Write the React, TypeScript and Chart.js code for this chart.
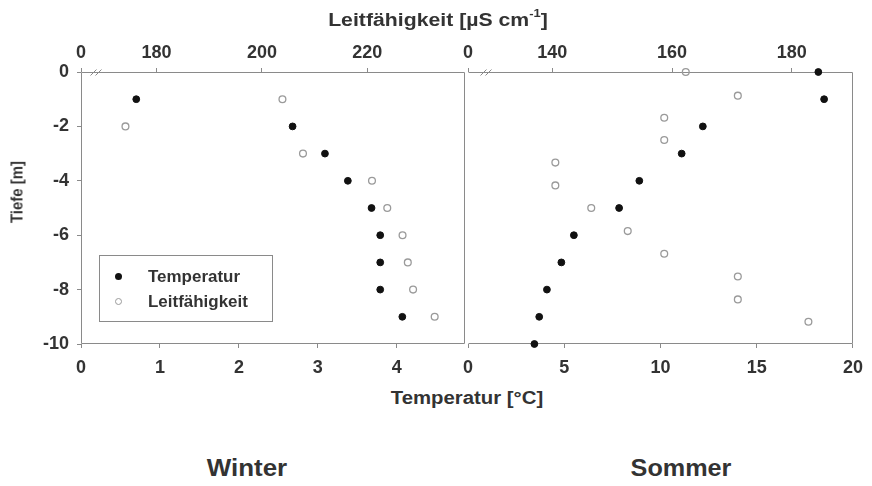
import React, { useEffect, useRef } from 'react';
import { Chart, registerables } from 'chart.js';

Chart.register(...registerables);

// ---------- data ----------
// Winter
const winterTempDepth = [-1, -2, -3, -4, -5, -6, -7, -8, -9];
const winterTemp = [0.7, 2.68, 3.09, 3.38, 3.68, 3.79, 3.79, 3.79, 4.07];
const winterCondDepth = [-1, -2, -3, -4, -5, -6, -7, -8, -9];
const winterCond = [203.9, 174.1, 207.8, 220.9, 223.8, 226.7, 227.7, 228.7, 232.8];
// Sommer
const summerTempDepth = [0, -1, -2, -3, -4, -5, -6, -7, -8, -9, -10];
const summerTemp = [18.2, 18.5, 12.2, 11.1, 8.9, 7.85, 5.5, 4.85, 4.1, 3.7, 3.45];
const summerCondDepth = [0, -0.87, -1.68, -2.5, -3.33, -4.17, -5.0, -5.85, -6.68, -7.52, -8.36, -9.18];
const summerCond = [162.3, 171.0, 158.7, 158.7, 140.5, 140.5, 146.5, 152.6, 158.7, 171.0, 171.0, 182.8];

// ticks
const depthTicks = [0, -2, -4, -6, -8, -10];
const winterTempTicks = [0, 1, 2, 3, 4];
const summerTempTicks = [0, 5, 10, 15, 20];
const winterCondTicks = [180, 200, 220];
const summerCondTicks = [140, 160, 180];

// ---------- style ----------
const FONT = '"Liberation Sans", Arial, sans-serif';
const TEXT = '#333';
const AXIS = '#8a8a8a';
const tickFont = { family: FONT, size: 18, weight: 'bold' as const };

function framePlugin(drawLeft: boolean, breakOffset: number) {
  return {
    id: 'frame',
    beforeDatasetsDraw(chart: any) {
      const { ctx, chartArea: a } = chart;
      const l = Math.round(a.left) + 0.5;
      const r = Math.round(a.right) - 0.5;
      const t = Math.round(a.top) + 0.5;
      const b = Math.round(a.bottom) - 0.5;
      ctx.save();
      ctx.strokeStyle = AXIS;
      ctx.lineWidth = 1;
      ctx.beginPath();
      ctx.moveTo(l, t);
      ctx.lineTo(r, t);
      ctx.lineTo(r, b);
      ctx.lineTo(l, b);
      if (drawLeft) ctx.lineTo(l, t);
      ctx.stroke();
      // axis break marks on top axis
      ctx.beginPath();
      for (const dx of [breakOffset, breakOffset + 5]) {
        ctx.moveTo(l + dx - 3, t + 3);
        ctx.lineTo(l + dx + 3, t - 3);
      }
      ctx.stroke();
      ctx.restore();
    },
  };
}

function fixedTicks(values: number[], withMin = false) {
  return (scale: any) => {
    const v = withMin ? [scale.min, ...values] : values;
    scale.ticks = v.map((value) => ({ value }));
  };
}

function makeOptions(opts: {
  tempMax: number;
  tempTicks: number[];
  condMin: number;
  condMax: number;
  condTicks: number[];
  showY: boolean;
  padLeft: number;
  padRight: number;
}) {
  const gridCfg = { drawOnChartArea: false, tickLength: 4, color: AXIS };
  return {
    responsive: false,
    animation: false as const,
    layout: { padding: { left: opts.padLeft, right: opts.padRight, top: 0, bottom: 0 } },
    plugins: { legend: { display: false }, tooltip: { enabled: false } },
    scales: {
      x: {
        type: 'linear' as const,
        position: 'bottom' as const,
        min: 0,
        max: opts.tempMax,
        afterBuildTicks: fixedTicks(opts.tempTicks),
        afterFit: (s: any) => {
          s.height = 36;
        },
        ticks: { font: tickFont, color: TEXT, padding: 9, autoSkip: false, maxRotation: 0 },
        grid: gridCfg,
        border: { display: false },
      },
      x2: {
        type: 'linear' as const,
        position: 'top' as const,
        min: opts.condMin,
        max: opts.condMax,
        afterBuildTicks: fixedTicks(opts.condTicks, true),
        afterFit: (s: any) => {
          s.height = 72;
        },
        ticks: {
          font: tickFont,
          color: TEXT,
          padding: 4,
          autoSkip: false,
          maxRotation: 0,
          callback: (v: any, i: number) => (i === 0 ? '0' : String(Math.round(v))),
        },
        grid: gridCfg,
        border: { display: false },
      },
      y: {
        type: 'linear' as const,
        position: 'left' as const,
        display: opts.showY,
        min: -10,
        max: 0,
        afterBuildTicks: fixedTicks(depthTicks),
        afterFit: (s: any) => {
          s.width = opts.showY ? 81 : 0;
        },
        ticks: { font: tickFont, color: TEXT, padding: 8, autoSkip: false },
        grid: gridCfg,
        border: { display: false },
      },
    },
  };
}

function datasets(tD: number[], t: number[], cD: number[], c: number[]) {
  return [
    {
      label: 'Temperatur',
      data: tD.map((d, i) => ({ x: t[i], y: d })),
      xAxisID: 'x',
      yAxisID: 'y',
      pointRadius: 3.4,
      pointBackgroundColor: '#111',
      pointBorderColor: '#111',
      pointBorderWidth: 1,
      showLine: false,
      clip: false as const,
    },
    {
      label: 'Leitfähigkeit',
      data: cD.map((d, i) => ({ x: c[i], y: d })),
      xAxisID: 'x2',
      yAxisID: 'y',
      pointRadius: 3.4,
      pointBackgroundColor: 'rgba(255,255,255,0)',
      pointBorderColor: '#9a9a9a',
      pointBorderWidth: 1.3,
      showLine: false,
      clip: false as const,
    },
  ];
}

function ChartCanvas(props: { kind: 'winter' | 'summer'; left: number; width: number }) {
  const ref = useRef<HTMLCanvasElement>(null);
  useEffect(() => {
    if (!ref.current) return;
    const winter = props.kind === 'winter';
    const chart = new Chart(ref.current, {
      type: 'scatter',
      data: {
        datasets: winter
          ? datasets(winterTempDepth, winterTemp, winterCondDepth, winterCond)
          : datasets(summerTempDepth, summerTemp, summerCondDepth, summerCond),
      } as any,
      options: makeOptions(
        winter
          ? {
              tempMax: 4.86,
              tempTicks: winterTempTicks,
              condMin: 165.66,
              condMax: 238.5,
              condTicks: winterCondTicks,
              showY: true,
              padLeft: 0,
              padRight: 3,
            }
          : {
              tempMax: 20,
              tempTicks: summerTempTicks,
              condMin: 125.9,
              condMax: 190.25,
              condTicks: summerCondTicks,
              showY: false,
              padLeft: 28,
              padRight: 17,
            }
      ) as any,
      plugins: [framePlugin(winter, winter ? 12 : 15)],
    });
    return () => chart.destroy();
  }, []);
  return (
    <canvas
      ref={ref}
      width={props.width}
      height={380}
      style={{ position: 'absolute', left: props.left, top: 0, width: props.width, height: 380 }}
    />
  );
}

const label = (x: number, y: number, size: number, sx = 1): React.CSSProperties => ({
  position: 'absolute',
  left: x,
  top: y,
  transform: `translate(-50%, -50%) scaleX(${sx})`,
  fontFamily: FONT,
  fontWeight: 'bold',
  fontSize: size,
  color: TEXT,
  whiteSpace: 'nowrap',
  lineHeight: 1,
});

export default function App() {
  return (
    <div
      style={{
        position: 'absolute',
        left: 0,
        top: 0,
        width: 872,
        height: 486,
        background: '#fff',
        overflow: 'hidden',
      }}
    >
      <ChartCanvas kind="winter" left={0} width={470} />
      <ChartCanvas kind="summer" left={440} width={432} />

      <div style={label(438, 20, 18, 1.18)}>
        Leitfähigkeit [µS cm<sup style={{ fontSize: 11, verticalAlign: 'top', position: 'relative', top: -3 }}>-1</sup>]
      </div>
      <div style={label(467, 398, 18, 1.13)}>Temperatur [°C]</div>
      <div style={{ ...label(17, 192, 17), transform: 'translate(-50%, -50%) rotate(-90deg) scaleX(0.88)' }}>
        Tiefe [m]
      </div>
      <div style={label(247, 468, 24, 1.08)}>Winter</div>
      <div style={label(681, 468, 24, 1.05)}>Sommer</div>

      <div
        style={{
          position: 'absolute',
          left: 99,
          top: 255,
          width: 174,
          height: 67,
          border: `1px solid ${AXIS}`,
          boxSizing: 'border-box',
        }}
      >
        <div
          style={{
            position: 'absolute',
            left: 15,
            top: 17,
            width: 7,
            height: 7,
            borderRadius: '50%',
            background: '#111',
          }}
        />
        <div style={{ ...label(48, 21, 16), transform: 'translate(0, -50%) scaleX(1.06)', transformOrigin: 'left center' }}>
          Temperatur
        </div>
        <div
          style={{
            position: 'absolute',
            left: 15,
            top: 42,
            width: 7,
            height: 7,
            borderRadius: '50%',
            border: '1.3px solid #9a9a9a',
            boxSizing: 'border-box',
          }}
        />
        <div style={{ ...label(48, 46, 16), transform: 'translate(0, -50%) scaleX(1.06)', transformOrigin: 'left center' }}>
          Leitfähigkeit
        </div>
      </div>
    </div>
  );
}
